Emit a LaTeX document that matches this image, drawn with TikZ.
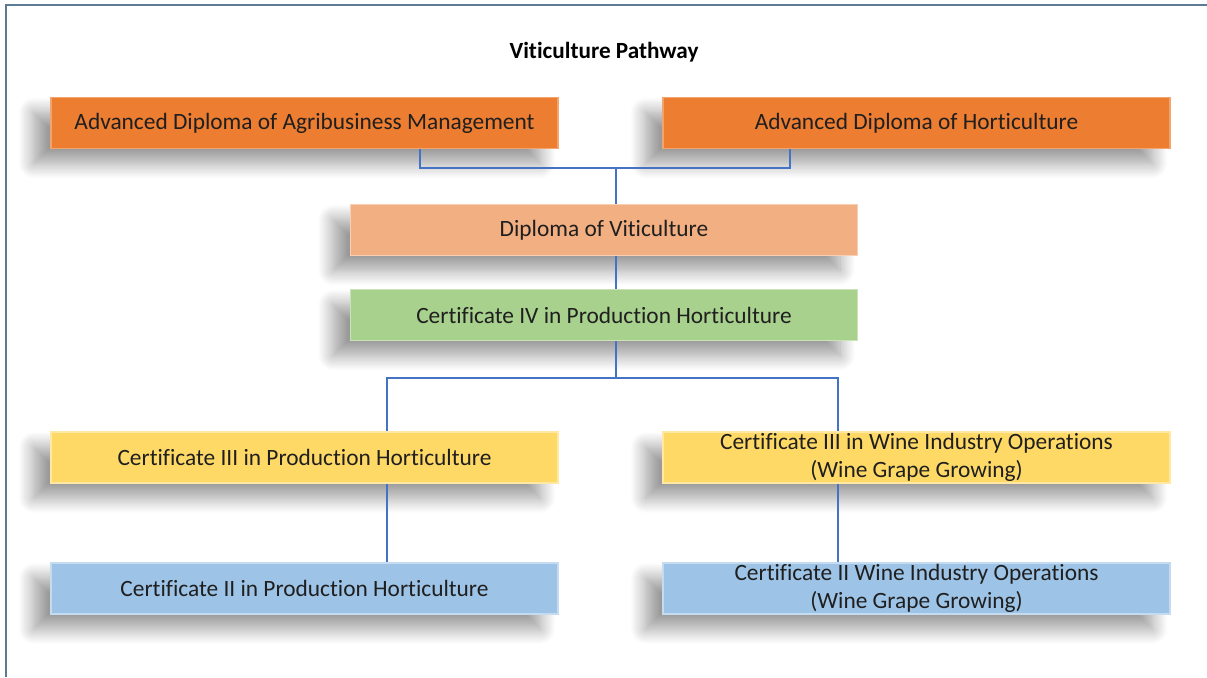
\documentclass[tikz,border=0pt]{standalone}
\usepackage{fontspec}
\setmainfont[Ligatures=NoCommon]{Carlito}
\usetikzlibrary{shadows.blur}

\definecolor{advorange}{HTML}{ED7D31}
\definecolor{diporange}{HTML}{F2AF82}
\definecolor{certgreen}{HTML}{A9D18E}
\definecolor{certyellow}{HTML}{FFD966}
\definecolor{certblue}{HTML}{9DC3E6}
\definecolor{linkblue}{HTML}{4472C4}
\definecolor{framegray}{HTML}{5B7A93}

\tikzset{
  course/.style={minimum width=10.14cm,minimum height=1.02cm,align=center,inner ysep=0pt,
    font=\fontsize{13.3}{16}\selectfont,text=black!88,line width=0.9pt,
    blur shadow={shadow xshift=-0.35cm,shadow yshift=-0.3cm,shadow blur radius=0.3cm,
      shadow blur steps=14,shadow opacity=40}},
  link/.style={draw=linkblue,line width=0.6pt}
}

\begin{document}
\begin{tikzpicture}
\useasboundingbox (0,0) rectangle (24.14,-13.54);
\draw[framegray,line width=0.8pt] (0.12,-13.54) -- (0.12,-0.1) -- (24.14,-0.1);

\node[font=\fontsize{13.2}{16}\selectfont\bfseries] (title) at (12.08,-1.04) {Viticulture Pathway};

\node[course,fill=advorange,draw=advorange!70!white] (advagri) at (6.09,-2.46) {Advanced Diploma of Agribusiness Management};
\node[course,fill=advorange,draw=advorange!70!white] (advhort) at (18.33,-2.46) {Advanced Diploma of Horticulture};
\node[course,fill=diporange,draw=diporange!60!white] (dipvit) at (12.08,-4.6) {Diploma of Viticulture};
\node[course,fill=certgreen,draw=certgreen!60!white] (certfour) at (12.08,-6.3) {Certificate IV in Production Horticulture};
\node[course,fill=certyellow,draw=certyellow!60!white] (certthreeph) at (6.09,-9.15) {Certificate III in Production Horticulture};
\node[course,fill=certyellow,draw=certyellow!60!white] (certthreewine) at (18.33,-9.15) {Certificate III in Wine Industry Operations\\(Wine Grape Growing)};
\node[course,fill=certblue,draw=certblue!60!white] (certtwoph) at (6.09,-11.77) {Certificate II in Production Horticulture};
\node[course,fill=certblue,draw=certblue!60!white] (certtwowine) at (18.33,-11.77) {Certificate II Wine Industry Operations\\(Wine Grape Growing)};

\coordinate (topjoin) at (12.32,-3.36);
\coordinate (lowjoin) at (12.32,-7.56);

\draw[link] ([xshift=2.31cm]advagri.south) |- (topjoin) -| ([xshift=-2.53cm]advhort.south);
\draw[link] (topjoin) -- (topjoin |- dipvit.north);
\draw[link] (dipvit.south -| topjoin) -- (certfour.north -| topjoin);
\draw[link] (certfour.south -| lowjoin) -- (lowjoin);
\draw[link] ([xshift=1.65cm]certthreeph.north) |- (lowjoin) -| ([xshift=-1.57cm]certthreewine.north);
\draw[link] ([xshift=1.65cm]certthreeph.south) -- ([xshift=1.65cm]certtwoph.north);
\draw[link] ([xshift=-1.57cm]certthreewine.south) -- ([xshift=-1.57cm]certtwowine.north);
\end{tikzpicture}
\end{document}
